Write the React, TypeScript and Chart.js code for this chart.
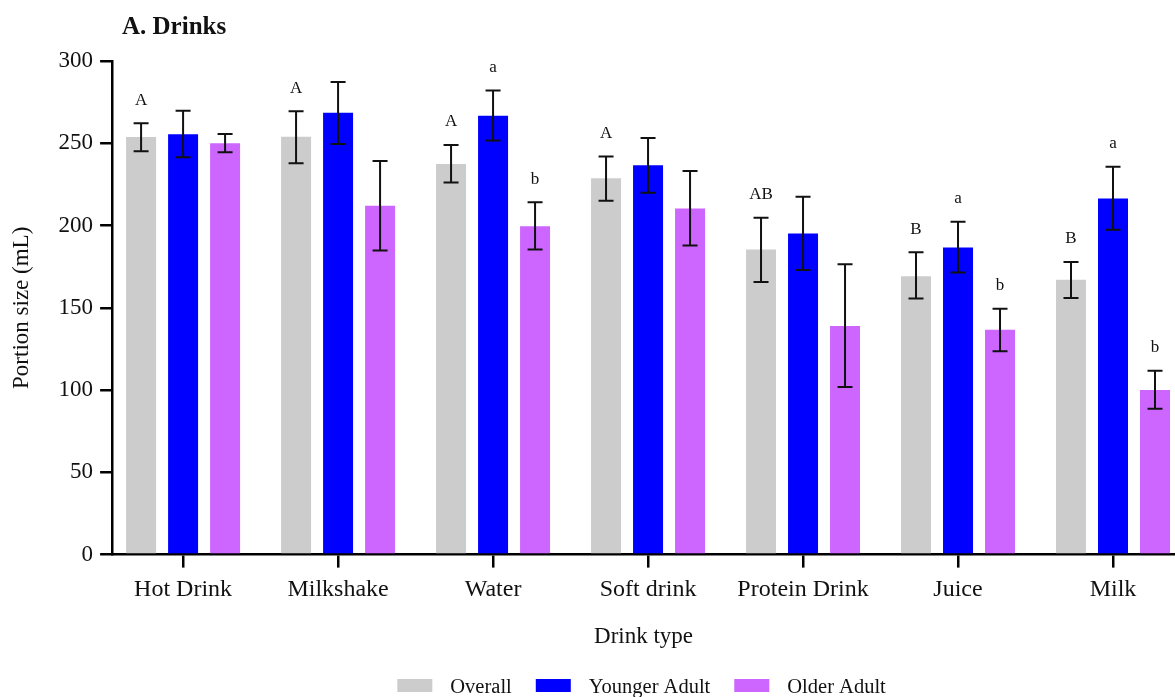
import React, { useEffect, useRef } from 'react';
import { Chart, registerables } from 'chart.js';

Chart.register(...registerables);

const categories = ['Hot Drink', 'Milkshake', 'Water', 'Soft drink', 'Protein Drink', 'Juice', 'Milk'];
const seriesLabels = ['Overall', 'Younger Adult', 'Older Adult'];
const seriesColors = ['#cccccc', '#0000ff', '#cc66ff'];

const overall = [253.8, 254, 237.4, 228.7, 185.4, 169.2, 167];
const overallLow = [245.1, 237.9, 226.2, 215, 165.7, 155.7, 156];
const overallHigh = [262.2, 269.5, 249, 242, 204.7, 183.7, 177.9];

const younger = [255.5, 268.5, 266.7, 236.6, 195.1, 186.6, 216.5];
const youngerLow = [241.5, 249.6, 251.7, 220, 173, 171.5, 197.4];
const youngerHigh = [269.7, 287.2, 282, 253.2, 217.5, 202.3, 235.8];

const older = [250, 212, 199.6, 210.4, 139, 136.6, 100];
const olderLow = [244.5, 184.8, 185.4, 187.8, 101.8, 123.6, 88.6];
const olderHigh = [255.7, 239.2, 214.2, 233.2, 176.4, 149.4, 111.8];

const overallLetters = ['A', 'A', 'A', 'A', 'AB', 'B', 'B'];
const youngerLetters = ['', '', 'a', '', '', 'a', 'a'];
const olderLetters = ['', '', 'b', '', '', 'b', 'b'];

const yTickValues = [0, 50, 100, 150, 200, 250, 300];

const chartTitle = 'A. Drinks';
const xTitle = 'Drink type';
const yTitle = 'Portion size (mL)';

const FONT = "'Liberation Serif', 'Times New Roman', serif";

const lows = [overallLow, youngerLow, olderLow];
const highs = [overallHigh, youngerHigh, olderHigh];
const letters = [overallLetters, youngerLetters, olderLetters];

const extrasPlugin = {
  id: 'extras',
  afterDatasetsDraw(chart: any) {
    const ctx = chart.ctx;
    const y = chart.scales.y;
    ctx.save();
    chart.data.datasets.forEach((_: any, di: number) => {
      const meta = chart.getDatasetMeta(di);
      meta.data.forEach((bar: any, i: number) => {
        const x = bar.x;
        const yl = y.getPixelForValue(lows[di][i]);
        const yh = y.getPixelForValue(highs[di][i]);
        ctx.strokeStyle = '#111111';
        ctx.lineWidth = 2;
        ctx.beginPath();
        ctx.moveTo(x, yl);
        ctx.lineTo(x, yh);
        ctx.moveTo(x - 7.5, yl);
        ctx.lineTo(x + 7.5, yl);
        ctx.moveTo(x - 7.5, yh);
        ctx.lineTo(x + 7.5, yh);
        ctx.stroke();
        const t = letters[di][i];
        if (t) {
          ctx.fillStyle = '#111111';
          ctx.font = `17px ${FONT}`;
          ctx.textAlign = 'center';
          ctx.textBaseline = 'alphabetic';
          ctx.fillText(t, x, yh - 18.5);
        }
      });
    });
    ctx.restore();
  },
  afterDraw(chart: any) {
    const ctx = chart.ctx;
    ctx.save();
    // chart title
    ctx.fillStyle = '#111111';
    ctx.font = `bold 25px ${FONT}`;
    ctx.textAlign = 'left';
    ctx.textBaseline = 'alphabetic';
    ctx.fillText(chartTitle, 122, 34);
    // legend
    ctx.font = `20.5px ${FONT}`;
    const boxW = 35;
    const boxH = 13;
    const gapBoxText = 18;
    const gapItems = 24;
    const widths = seriesLabels.map((l) => ctx.measureText(l).width);
    let total = 0;
    widths.forEach((w, i) => {
      total += boxW + gapBoxText + w + (i < widths.length - 1 ? gapItems : 0);
    });
    const area = chart.chartArea;
    let x = (area.left + area.right) / 2 - total / 2 - 2;
    const boxTop = 679;
    seriesLabels.forEach((l, i) => {
      ctx.fillStyle = seriesColors[i];
      ctx.fillRect(x, boxTop, boxW, boxH);
      x += boxW + gapBoxText;
      ctx.fillStyle = '#111111';
      ctx.fillText(l, x, 693);
      x += widths[i] + gapItems;
    });
    ctx.restore();
  },
};

export default function App() {
  const ref = useRef<HTMLCanvasElement | null>(null);

  useEffect(() => {
    document.body.style.margin = '0';
    document.body.style.overflow = 'hidden';
    const canvas = ref.current;
    if (!canvas) return;
    const series = [overall, younger, older];
    const chart = new Chart(canvas, {
      type: 'bar',
      data: {
        datasets: series.map((vals, si) => ({
          label: seriesLabels[si],
          data: vals.map((v, i) => ({ x: i, y: v })),
          backgroundColor: seriesColors[si],
          borderWidth: 0,
          categoryPercentage: 0.813,
          barPercentage: 0.714,
        })),
      },
      options: {
        responsive: false,
        animation: false,
        devicePixelRatio: 1,
        layout: { padding: { top: 61, left: 0, right: 0, bottom: 46 } },
        plugins: {
          legend: { display: false },
          tooltip: { enabled: false },
          title: { display: false },
        },
        scales: {
          x: {
            type: 'linear',
            offset: false,
            min: -0.458,
            max: 6.4,
            afterBuildTicks: (scale: any) => {
              scale.ticks = categories.map((_, i) => ({ value: i }));
            },
            ticks: {
              callback: (v: any) => categories[Math.round(Number(v))] ?? '',
              font: { family: FONT, size: 24 },
              color: '#111111',
              padding: 8,
              autoSkip: false,
              maxRotation: 0,
            },
            grid: {
              display: true,
              drawOnChartArea: false,
              drawTicks: true,
              tickLength: 13,
              color: '#000000',
              lineWidth: 2.5,
              offset: false,
            },
            border: { display: true, color: '#000000', width: 2.5 },
            title: {
              display: true,
              text: xTitle,
              color: '#111111',
              font: { family: FONT, size: 23 },
              padding: { top: 11, bottom: 0 },
            },
          },
          y: {
            type: 'linear',
            min: 0,
            max: 300,
            afterBuildTicks: (scale: any) => {
              scale.ticks = yTickValues.map((v) => ({ value: v }));
            },
            ticks: {
              font: { family: FONT, size: 23 },
              color: '#111111',
              padding: 7,
            },
            grid: {
              display: true,
              drawOnChartArea: false,
              drawTicks: true,
              tickLength: 12,
              color: '#000000',
              lineWidth: 2.5,
            },
            border: { display: true, color: '#000000', width: 2.5 },
            title: {
              display: true,
              text: yTitle,
              color: '#111111',
              font: { family: FONT, size: 23 },
              padding: { top: 8, bottom: 16 },
            },
          },
        },
      },
      plugins: [extrasPlugin],
    } as any);
    return () => chart.destroy();
  }, []);

  return (
    <div style={{ width: 1175, height: 697, overflow: 'hidden' }}>
      <canvas ref={ref} width={1175} height={697} style={{ display: 'block' }} />
    </div>
  );
}
